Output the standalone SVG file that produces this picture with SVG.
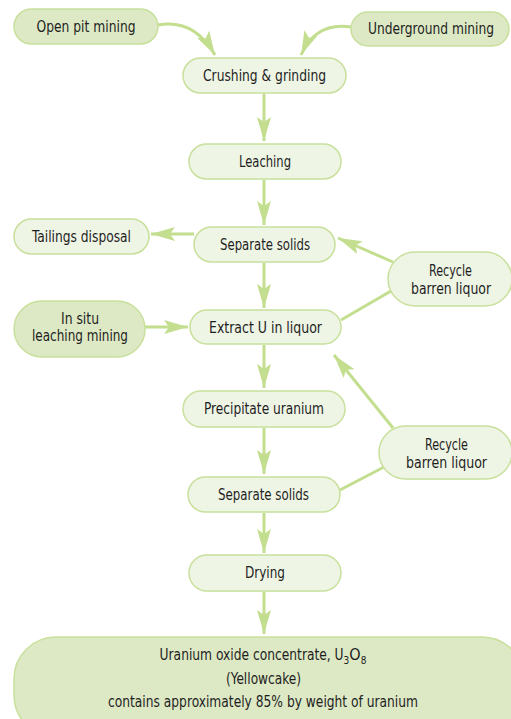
<svg xmlns="http://www.w3.org/2000/svg" width="511" height="719" viewBox="0 0 511 719">
<style>
.n rect{stroke:#c8e09c;stroke-width:1.5}
.d rect{fill:#dde9c5}
.l rect{fill:#eff5e5}
text{font-family:"DejaVu Sans Condensed","Liberation Sans Narrow","Liberation Sans",sans-serif;font-size:16px;fill:#1e1e1e;text-anchor:middle}
tspan.sub{font-size:10px}
.c path,.c line{stroke:#c2de8e;stroke-width:3;fill:none}
</style>
<defs>
<marker id="ah" markerUnits="userSpaceOnUse" markerWidth="26" markerHeight="16" refX="24" refY="7" orient="auto">
<path d="M0,0 L24,7 L0,14 L5,7 z" fill="#c2de8e"/>
</marker>
</defs>
<rect width="511" height="719" fill="#ffffff"/>
<g class="c">
<path d="M158,25 C185,20 203,34 215,55" marker-end="url(#ah)"/>
<path d="M351,27 C325,23 310,35 301,55" marker-end="url(#ah)"/>
<line x1="264" y1="94" x2="264" y2="141" marker-end="url(#ah)"/>
<line x1="264" y1="180" x2="264" y2="225" marker-end="url(#ah)"/>
<line x1="194" y1="234" x2="151" y2="234" marker-end="url(#ah)"/>
<line x1="393" y1="262" x2="338" y2="238" marker-end="url(#ah)"/>
<line x1="341" y1="320" x2="391" y2="291"/>
<line x1="264" y1="263" x2="264" y2="308" marker-end="url(#ah)"/>
<line x1="145" y1="327" x2="188" y2="327" marker-end="url(#ah)"/>
<line x1="264" y1="345" x2="264" y2="388" marker-end="url(#ah)"/>
<line x1="393" y1="428" x2="334" y2="355" marker-end="url(#ah)"/>
<line x1="340" y1="490" x2="384" y2="467"/>
<line x1="264" y1="428" x2="264" y2="474" marker-end="url(#ah)"/>
<line x1="264" y1="513" x2="264" y2="553" marker-end="url(#ah)"/>
<line x1="264" y1="592" x2="264" y2="634" marker-end="url(#ah)"/>
</g>
<g id="open-pit" class="n d"><rect x="14" y="9" width="144" height="35" rx="17.5"/><text x="86" y="32" textLength="99" lengthAdjust="spacingAndGlyphs">Open pit mining</text></g>
<g id="underground" class="n d"><rect x="351" y="12" width="158" height="34" rx="17"/><text x="431" y="34" textLength="126" lengthAdjust="spacingAndGlyphs">Underground mining</text></g>
<g id="crushing" class="n l"><rect x="183" y="58" width="163" height="35" rx="17.5"/><text x="264.5" y="81" textLength="123" lengthAdjust="spacingAndGlyphs">Crushing &amp; grinding</text></g>
<g id="leaching" class="n l"><rect x="189" y="144" width="152" height="35" rx="17.5"/><text x="265" y="167" textLength="52" lengthAdjust="spacingAndGlyphs">Leaching</text></g>
<g id="separate1" class="n l"><rect x="194" y="227" width="141" height="35" rx="17.5"/><text x="265" y="250" textLength="90" lengthAdjust="spacingAndGlyphs">Separate solids</text></g>
<g id="tailings" class="n l"><rect x="14" y="219" width="135" height="35" rx="17.5"/><text x="81.5" y="242" textLength="99" lengthAdjust="spacingAndGlyphs">Tailings disposal</text></g>
<g id="recycle1" class="n l"><rect x="388" y="252" width="124" height="54" rx="27"/><text x="450.5" y="276" textLength="43" lengthAdjust="spacingAndGlyphs">Recycle</text><text x="451" y="294" textLength="80" lengthAdjust="spacingAndGlyphs">barren liquor</text></g>
<g id="insitu" class="n d"><rect x="14" y="301" width="131" height="56" rx="28"/><text x="80" y="324" textLength="38" lengthAdjust="spacingAndGlyphs">In situ</text><text x="80" y="341" textLength="96" lengthAdjust="spacingAndGlyphs">leaching mining</text></g>
<g id="extract" class="n l"><rect x="190" y="310" width="151" height="34" rx="17"/><text x="265.5" y="333" textLength="113" lengthAdjust="spacingAndGlyphs">Extract U in liquor</text></g>
<g id="precipitate" class="n l"><rect x="183" y="391" width="162" height="36" rx="18"/><text x="264" y="414" textLength="120" lengthAdjust="spacingAndGlyphs">Precipitate uranium</text></g>
<g id="recycle2" class="n l"><rect x="379" y="426" width="133" height="53" rx="26.5"/><text x="446.5" y="450" textLength="43" lengthAdjust="spacingAndGlyphs">Recycle</text><text x="446.5" y="468" textLength="81" lengthAdjust="spacingAndGlyphs">barren liquor</text></g>
<g id="separate2" class="n l"><rect x="188" y="477" width="152" height="35" rx="17.5"/><text x="263.5" y="500" textLength="91" lengthAdjust="spacingAndGlyphs">Separate solids</text></g>
<g id="drying" class="n l"><rect x="189" y="555" width="152" height="36" rx="18"/><text x="265" y="578" textLength="40" lengthAdjust="spacingAndGlyphs">Drying</text></g>
<g id="yellowcake" class="n d"><rect x="14" y="637" width="510" height="100" rx="42"/>
<text x="263" y="660"><tspan textLength="184" lengthAdjust="spacingAndGlyphs">Uranium oxide concentrate, U</tspan><tspan class="sub" dy="4">3</tspan><tspan dy="-4">O</tspan><tspan class="sub" dy="4">8</tspan></text>
<text x="263.5" y="684" textLength="75" lengthAdjust="spacingAndGlyphs">(Yellowcake)</text>
<text x="263" y="707" textLength="310" lengthAdjust="spacingAndGlyphs">contains approximately 85% by weight of uranium</text></g>
</svg>
